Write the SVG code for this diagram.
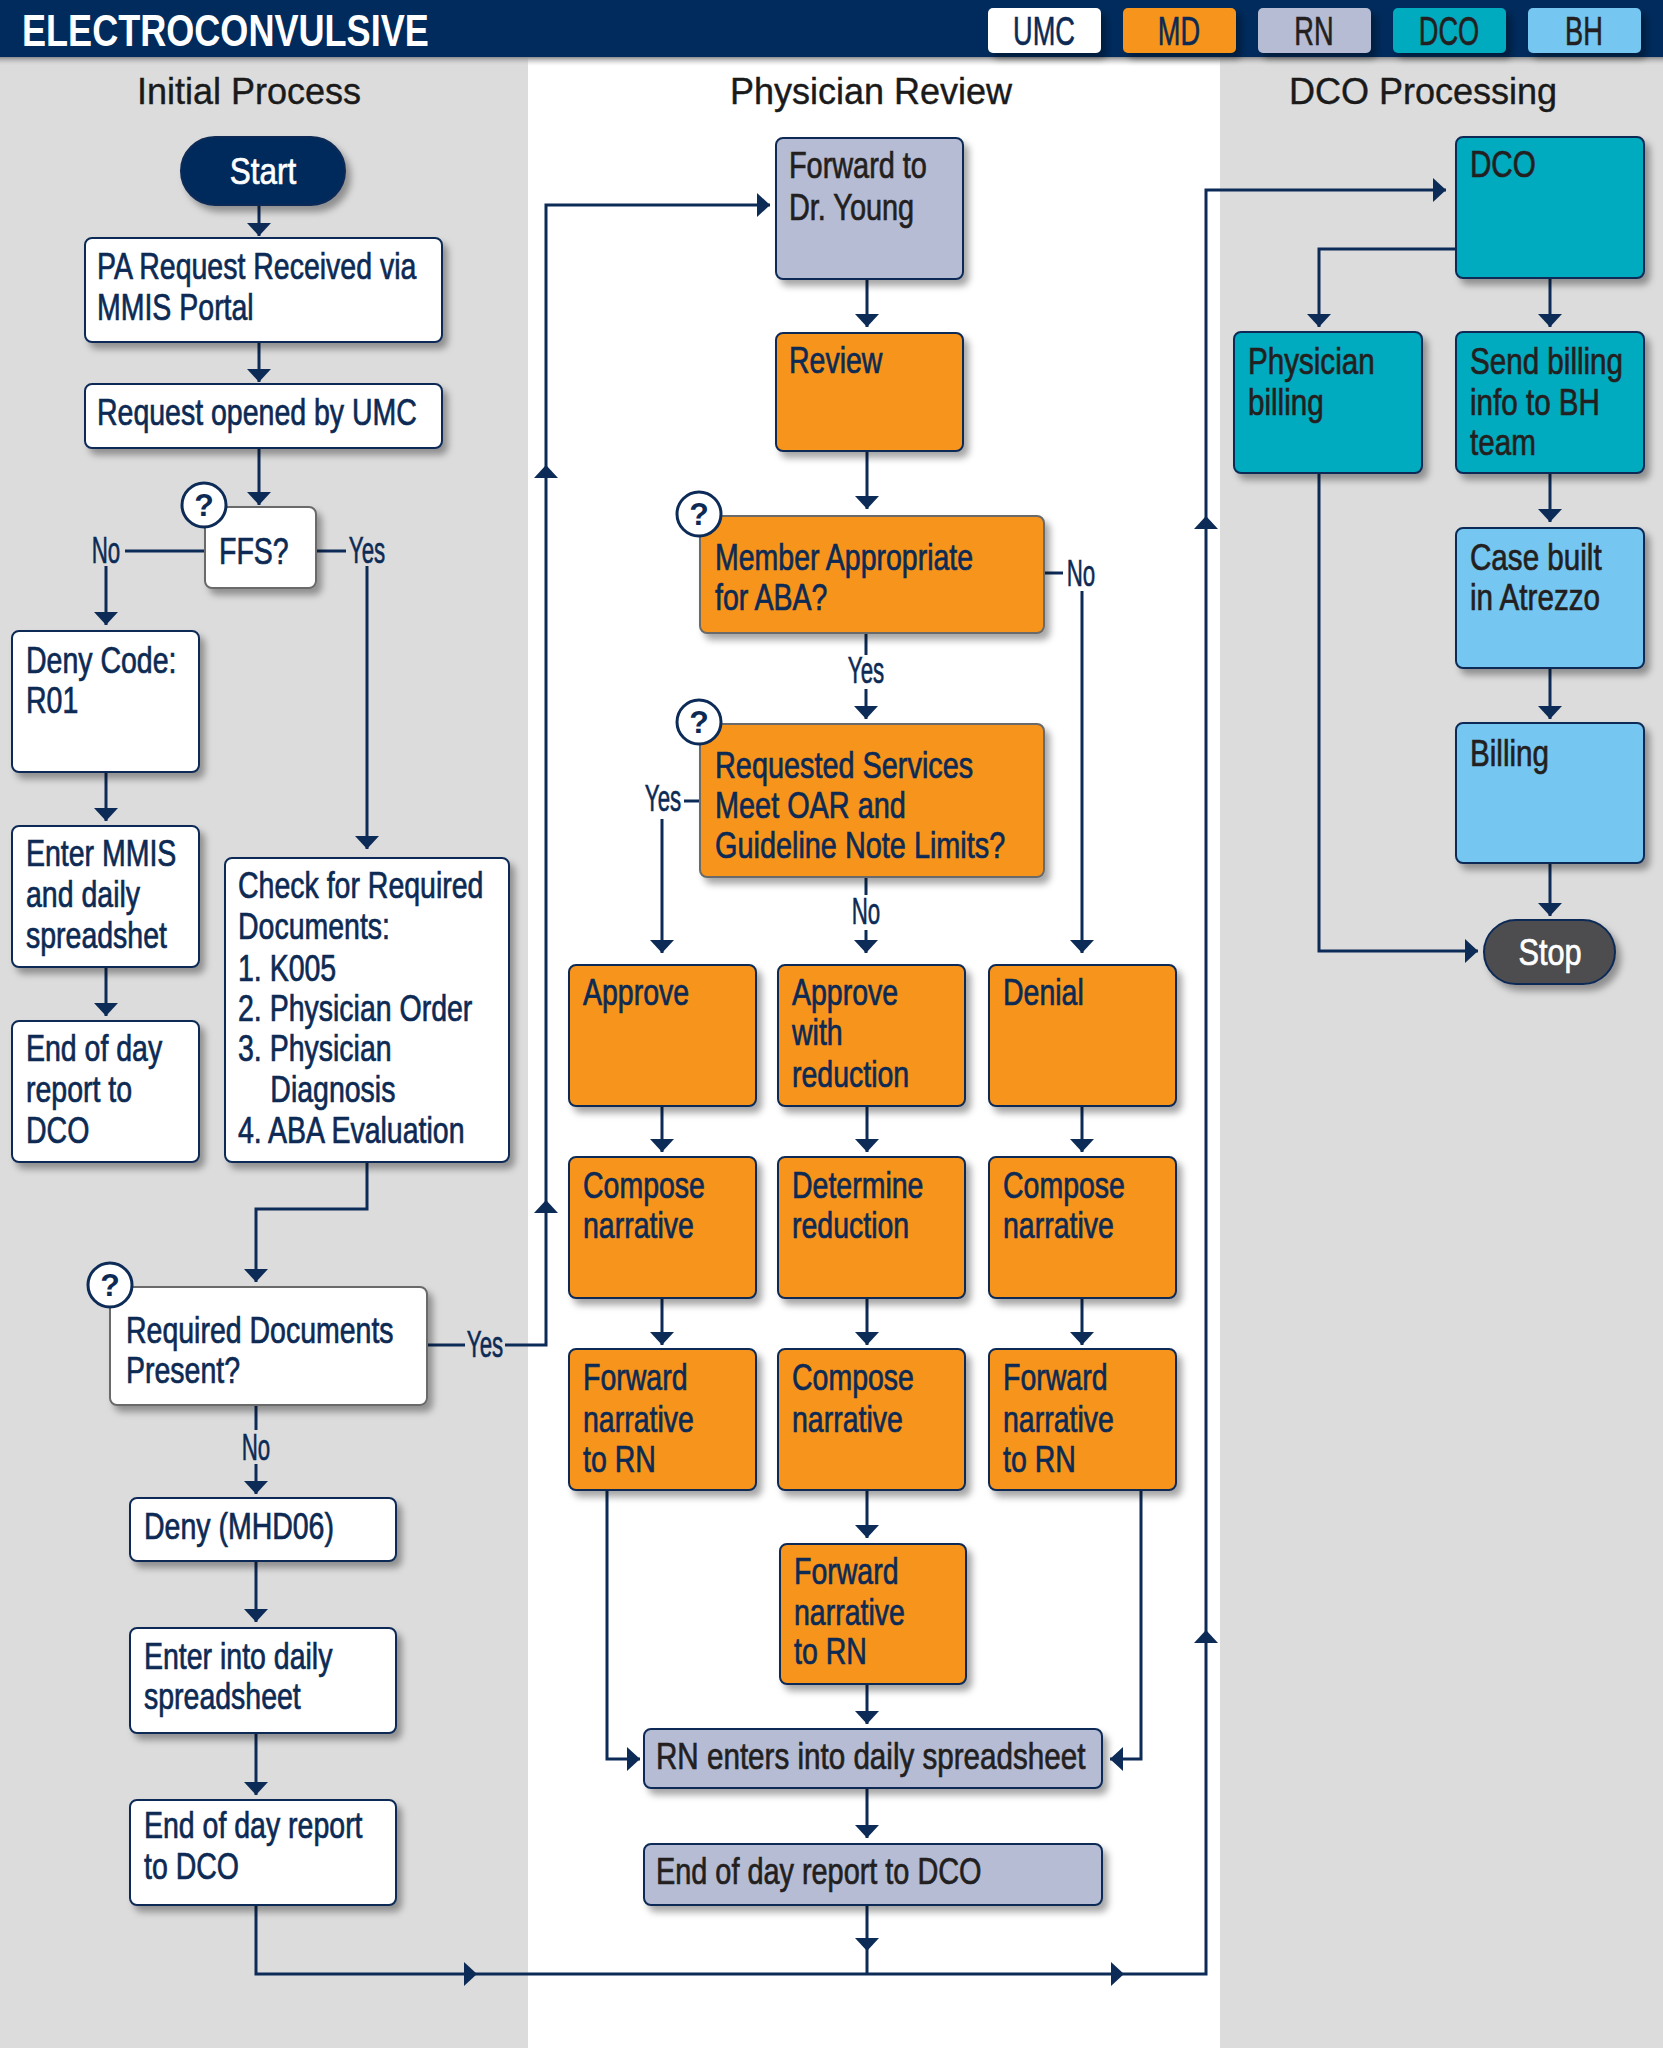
<svg xmlns="http://www.w3.org/2000/svg" width="1663" height="2048" viewBox="0 0 1663 2048">
<defs>
<filter id="sh" x="-10%" y="-10%" width="130%" height="140%">
<feDropShadow dx="5" dy="6" stdDeviation="3.5" flood-color="#000" flood-opacity="0.35"/>
</filter>
<linearGradient id="bandsh" x1="0" y1="0" x2="0" y2="1">
<stop offset="0" stop-color="#8a8a8a"/>
<stop offset="1" stop-color="#dcdcdc" stop-opacity="0"/>
</linearGradient>
<marker id="ah" viewBox="0 0 13 24" refX="13" refY="12" markerWidth="13" markerHeight="24" markerUnits="userSpaceOnUse" orient="auto">
<path d="M0,0 L13,12 L0,24 Z" fill="#0d2b57"/>
</marker>
<style>
.box{stroke:#0d2b57;stroke-width:2;filter:url(#sh)}
.dec{stroke:#6a6a6a}
.umc{fill:#ffffff}.md{fill:#F7941D}.rn{fill:#B5BCD4}.dco{fill:#00AABF}.bh{fill:#74C6F0}
.t{font-family:'Liberation Sans',Arial,sans-serif;font-size:37px;fill:#0c2a54;stroke:#0c2a54;stroke-width:0.7}
.k{fill:#231f20;stroke:#231f20}
.w{fill:#ffffff;stroke:#ffffff}
.lbl{font-family:'Liberation Sans',Arial,sans-serif;font-size:36px;fill:#0c2a54;stroke:#0c2a54;stroke-width:0.6;text-anchor:middle}
.hd{font-family:'Liberation Sans',Arial,sans-serif;font-size:36px;fill:#1a1a1a;stroke:#1a1a1a;stroke-width:0.4;text-anchor:middle}
.c{stroke:#0d2b57;stroke-width:3;fill:none}
.ca{stroke:#0d2b57;stroke-width:3;fill:none;marker-end:url(#ah)}
.tri{fill:#0d2b57}
.q{fill:#ffffff;stroke:#0d2b57;stroke-width:3}
.qt{font-family:'Liberation Sans',Arial,sans-serif;font-size:32px;font-weight:bold;fill:#0c2a54;text-anchor:middle}
.leg{font-family:'Liberation Sans',Arial,sans-serif;font-size:40px;text-anchor:middle;stroke-width:0.6}
</style>
</defs>

<!-- backgrounds -->
<rect x="0" y="0" width="1663" height="2048" fill="#ffffff"/>
<rect x="0" y="57" width="528" height="1991" fill="#DCDCDC"/>
<rect x="1220" y="57" width="443" height="1991" fill="#DCDCDC"/>
<rect x="0" y="57" width="1663" height="9" fill="url(#bandsh)"/>
<rect x="0" y="0" width="1663" height="57" fill="#002B5C"/>
<text transform="translate(22,46) scale(0.82,1)" font-family="'Liberation Sans',Arial,sans-serif" font-size="44" font-weight="bold" fill="#ffffff">ELECTROCONVULSIVE</text>

<!-- legend -->
<g id="legend">
<rect class="umc" x="988" y="8" width="113" height="45" rx="5" filter="url(#sh)"/>
<text class="leg" transform="translate(1044,45) scale(0.68,1)" fill="#0c2a54" stroke="#0c2a54">UMC</text>
<rect class="md" x="1123" y="8" width="113" height="45" rx="5" filter="url(#sh)"/>
<text class="leg" transform="translate(1179,45) scale(0.68,1)" fill="#0c2a54" stroke="#0c2a54">MD</text>
<rect class="rn" x="1258" y="8" width="113" height="45" rx="5" filter="url(#sh)"/>
<text class="leg" transform="translate(1314,45) scale(0.68,1)" fill="#231f20" stroke="#231f20">RN</text>
<rect class="dco" x="1393" y="8" width="113" height="45" rx="5" filter="url(#sh)"/>
<text class="leg" transform="translate(1449,45) scale(0.68,1)" fill="#231f20" stroke="#231f20">DCO</text>
<rect class="bh" x="1528" y="8" width="113" height="45" rx="5" filter="url(#sh)"/>
<text class="leg" transform="translate(1584,45) scale(0.68,1)" fill="#231f20" stroke="#231f20">BH</text>
</g>

<!-- column headers -->
<text class="hd" x="249" y="104">Initial Process</text>
<text class="hd" x="871" y="104">Physician Review</text>
<text class="hd" x="1423" y="104">DCO Processing</text>

<!-- connectors -->
<g id="connectors">
<path class="ca" d="M259,205 V236"/>
<path class="ca" d="M259,342 V382"/>
<path class="ca" d="M259,448 V505"/>
<path class="c" d="M205,551 H125"/>
<path class="ca" d="M106,566 V625"/>
<path class="c" d="M316,551 H346"/>
<path class="ca" d="M367,566 V849"/>
<path class="ca" d="M106,772 V821"/>
<path class="ca" d="M106,967 V1016"/>
<path class="ca" d="M367,1162 V1209 H256 V1282"/>
<path class="c" d="M427,1345 H465"/>
<path class="ca" d="M505,1345 H546 V205 H770"/>
<path class="tri" d="M534,1213 L546,1200 L558,1213 Z"/>
<path class="tri" d="M534,478 L546,465 L558,478 Z"/>
<path class="c" d="M256,1405 V1430"/>
<path class="ca" d="M256,1464 V1494"/>
<path class="ca" d="M256,1561 V1622"/>
<path class="ca" d="M256,1733 V1795"/>
<path class="ca" d="M256,1905 V1974 H1206 V190 H1446"/>
<path class="tri" d="M464,1962 L477,1974 L464,1986 Z"/>
<path class="tri" d="M1111,1962 L1124,1974 L1111,1986 Z"/>
<path class="tri" d="M1194,1643 L1206,1630 L1218,1643 Z"/>
<path class="tri" d="M1194,529 L1206,516 L1218,529 Z"/>
<path class="c" d="M867,1905 V1974"/>
<path class="tri" d="M855,1938 L867,1951 L879,1938 Z"/>
<path class="ca" d="M867,279 V327"/>
<path class="ca" d="M867,451 V509"/>
<path class="c" d="M1044,573 H1063"/>
<path class="ca" d="M1082,591 V953"/>
<path class="c" d="M866,633 V655"/>
<path class="ca" d="M866,689 V719"/>
<path class="c" d="M700,801 H684"/>
<path class="ca" d="M662,819 V953"/>
<path class="c" d="M866,877 V895"/>
<path class="ca" d="M866,930 V953"/>
<path class="ca" d="M662,1106 V1152"/>
<path class="ca" d="M867,1106 V1152"/>
<path class="ca" d="M1082,1106 V1152"/>
<path class="ca" d="M662,1298 V1345"/>
<path class="ca" d="M867,1298 V1345"/>
<path class="ca" d="M1082,1298 V1345"/>
<path class="ca" d="M867,1490 V1538"/>
<path class="ca" d="M607,1490 V1759 H640"/>
<path class="ca" d="M1141,1490 V1759 H1110"/>
<path class="ca" d="M867,1684 V1724"/>
<path class="ca" d="M867,1788 V1838"/>
<path class="ca" d="M1456,249 H1319 V327"/>
<path class="ca" d="M1550,278 V327"/>
<path class="ca" d="M1550,473 V522"/>
<path class="ca" d="M1550,668 V719"/>
<path class="ca" d="M1550,863 V916"/>
<path class="ca" d="M1319,473 V951 H1478"/>
<text class="lbl" transform="translate(106,563) scale(0.62,1)">No</text>
<text class="lbl" transform="translate(367,563) scale(0.62,1)">Yes</text>
<text class="lbl" transform="translate(485,1357) scale(0.62,1)">Yes</text>
<text class="lbl" transform="translate(256,1460) scale(0.62,1)">No</text>
<text class="lbl" transform="translate(1081,586) scale(0.62,1)">No</text>
<text class="lbl" transform="translate(866,683) scale(0.62,1)">Yes</text>
<text class="lbl" transform="translate(663,811) scale(0.62,1)">Yes</text>
<text class="lbl" transform="translate(866,924) scale(0.62,1)">No</text>
</g>

<!-- Initial Process nodes -->
<g id="start">
<rect x="181" y="137" width="164" height="68" rx="34" fill="#002B5C" stroke="#0d2b57" stroke-width="2" filter="url(#sh)"/>
<text class="t w" transform="translate(263,184) scale(0.85,1)" text-anchor="middle">Start</text>
</g>
<g id="pa-request">
<rect class="box umc" x="85" y="238" width="357" height="104" rx="7"/>
<text class="t" transform="translate(97,279) scale(0.77,1)"><tspan x="0" y="0">PA Request Received via</tspan><tspan x="0" y="41">MMIS Portal</tspan></text>
</g>
<g id="request-opened">
<rect class="box umc" x="85" y="384" width="357" height="64" rx="7"/>
<text class="t" transform="translate(97,425) scale(0.77,1)">Request opened by UMC</text>
</g>
<g id="ffs">
<rect class="box dec umc" x="205" y="507" width="111" height="81" rx="7"/>
<text class="t" transform="translate(219,564) scale(0.77,1)">FFS?</text>
<circle class="q" cx="204" cy="505" r="22"/>
<text class="qt" x="204" y="516">?</text>
</g>
<g id="deny-code">
<rect class="box umc" x="12" y="631" width="187" height="141" rx="7"/>
<text class="t" transform="translate(26,673) scale(0.77,1)"><tspan x="0" y="0">Deny Code:</tspan><tspan x="0" y="40">R01</tspan></text>
</g>
<g id="enter-mmis">
<rect class="box umc" x="12" y="826" width="187" height="141" rx="7"/>
<text class="t" transform="translate(26,866) scale(0.77,1)"><tspan x="0" y="0">Enter MMIS</tspan><tspan x="0" y="41">and daily</tspan><tspan x="0" y="82">spreadshet</tspan></text>
</g>
<g id="end-of-day-1">
<rect class="box umc" x="12" y="1021" width="187" height="141" rx="7"/>
<text class="t" transform="translate(26,1061) scale(0.77,1)"><tspan x="0" y="0">End of day</tspan><tspan x="0" y="41">report to</tspan><tspan x="0" y="82">DCO</tspan></text>
</g>
<g id="check-docs">
<rect class="box umc" x="225" y="858" width="284" height="304" rx="7"/>
<text class="t" transform="translate(238,898) scale(0.77,1)"><tspan x="0" y="0">Check for Required</tspan><tspan x="0" y="41">Documents:</tspan><tspan x="0" y="83">1. K005</tspan><tspan x="0" y="123">2. Physician Order</tspan><tspan x="0" y="163">3. Physician</tspan><tspan x="42" y="204">Diagnosis</tspan><tspan x="0" y="245">4. ABA Evaluation</tspan></text>
</g>
<g id="docs-present">
<rect class="box dec umc" x="110" y="1287" width="317" height="118" rx="7"/>
<text class="t" transform="translate(126,1343) scale(0.77,1)"><tspan x="0" y="0">Required Documents</tspan><tspan x="0" y="40">Present?</tspan></text>
<circle class="q" cx="110" cy="1285" r="22"/>
<text class="qt" x="110" y="1296">?</text>
</g>
<g id="deny-mhd06">
<rect class="box umc" x="130" y="1498" width="266" height="63" rx="7"/>
<text class="t" transform="translate(144,1539) scale(0.77,1)">Deny (MHD06)</text>
</g>
<g id="enter-daily">
<rect class="box umc" x="130" y="1628" width="266" height="105" rx="7"/>
<text class="t" transform="translate(144,1669) scale(0.77,1)"><tspan x="0" y="0">Enter into daily</tspan><tspan x="0" y="40">spreadsheet</tspan></text>
</g>
<g id="end-of-day-2">
<rect class="box umc" x="130" y="1800" width="266" height="105" rx="7"/>
<text class="t" transform="translate(144,1838) scale(0.77,1)"><tspan x="0" y="0">End of day report</tspan><tspan x="0" y="41">to DCO</tspan></text>
</g>

<!-- Physician Review nodes -->
<g id="forward-dr">
<rect class="box rn" x="776" y="138" width="187" height="141" rx="7"/>
<text class="t k" transform="translate(789,178) scale(0.78,1)"><tspan x="0" y="0">Forward to</tspan><tspan x="0" y="42">Dr. Young</tspan></text>
</g>
<g id="review">
<rect class="box md" x="776" y="333" width="187" height="118" rx="7"/>
<text class="t" transform="translate(789,373) scale(0.77,1)">Review</text>
</g>
<g id="member-appropriate">
<rect class="box dec md" x="700" y="516" width="344" height="117" rx="7"/>
<text class="t" transform="translate(715,570) scale(0.77,1)"><tspan x="0" y="0">Member Appropriate</tspan><tspan x="0" y="40">for ABA?</tspan></text>
<circle class="q" cx="699" cy="514" r="22"/>
<text class="qt" x="699" y="525">?</text>
</g>
<g id="requested-services">
<rect class="box dec md" x="700" y="724" width="344" height="153" rx="7"/>
<text class="t" transform="translate(715,778) scale(0.78,1)"><tspan x="0" y="0">Requested Services</tspan><tspan x="0" y="40">Meet OAR and</tspan><tspan x="0" y="80">Guideline Note Limits?</tspan></text>
<circle class="q" cx="699" cy="722" r="22"/>
<text class="qt" x="699" y="733">?</text>
</g>
<g id="approve">
<rect class="box md" x="569" y="965" width="187" height="141" rx="7"/>
<text class="t" transform="translate(583,1005) scale(0.77,1)">Approve</text>
</g>
<g id="approve-reduction">
<rect class="box md" x="778" y="965" width="187" height="141" rx="7"/>
<text class="t" transform="translate(792,1005) scale(0.77,1)"><tspan x="0" y="0">Approve</tspan><tspan x="0" y="40">with</tspan><tspan x="0" y="82">reduction</tspan></text>
</g>
<g id="denial">
<rect class="box md" x="989" y="965" width="187" height="141" rx="7"/>
<text class="t" transform="translate(1003,1005) scale(0.77,1)">Denial</text>
</g>
<g id="compose-1">
<rect class="box md" x="569" y="1157" width="187" height="141" rx="7"/>
<text class="t" transform="translate(583,1198) scale(0.77,1)"><tspan x="0" y="0">Compose</tspan><tspan x="0" y="40">narrative</tspan></text>
</g>
<g id="determine-reduction">
<rect class="box md" x="778" y="1157" width="187" height="141" rx="7"/>
<text class="t" transform="translate(792,1198) scale(0.77,1)"><tspan x="0" y="0">Determine</tspan><tspan x="0" y="40">reduction</tspan></text>
</g>
<g id="compose-3">
<rect class="box md" x="989" y="1157" width="187" height="141" rx="7"/>
<text class="t" transform="translate(1003,1198) scale(0.77,1)"><tspan x="0" y="0">Compose</tspan><tspan x="0" y="40">narrative</tspan></text>
</g>
<g id="forward-1">
<rect class="box md" x="569" y="1349" width="187" height="141" rx="7"/>
<text class="t" transform="translate(583,1390) scale(0.77,1)"><tspan x="0" y="0">Forward</tspan><tspan x="0" y="42">narrative</tspan><tspan x="0" y="82">to RN</tspan></text>
</g>
<g id="compose-2">
<rect class="box md" x="778" y="1349" width="187" height="141" rx="7"/>
<text class="t" transform="translate(792,1390) scale(0.77,1)"><tspan x="0" y="0">Compose</tspan><tspan x="0" y="42">narrative</tspan></text>
</g>
<g id="forward-3">
<rect class="box md" x="989" y="1349" width="187" height="141" rx="7"/>
<text class="t" transform="translate(1003,1390) scale(0.77,1)"><tspan x="0" y="0">Forward</tspan><tspan x="0" y="42">narrative</tspan><tspan x="0" y="82">to RN</tspan></text>
</g>
<g id="forward-2">
<rect class="box md" x="780" y="1544" width="186" height="140" rx="7"/>
<text class="t" transform="translate(794,1584) scale(0.77,1)"><tspan x="0" y="0">Forward</tspan><tspan x="0" y="41">narrative</tspan><tspan x="0" y="80">to RN</tspan></text>
</g>
<g id="rn-enters">
<rect class="box rn" x="644" y="1729" width="458" height="59" rx="7"/>
<text class="t k" transform="translate(656,1769) scale(0.80,1)">RN enters into daily spreadsheet</text>
</g>
<g id="rn-end-of-day">
<rect class="box rn" x="644" y="1844" width="458" height="61" rx="7"/>
<text class="t k" transform="translate(656,1884) scale(0.78,1)">End of day report to DCO</text>
</g>

<!-- DCO Processing nodes -->
<g id="dco">
<rect class="box dco" x="1456" y="137" width="188" height="141" rx="7"/>
<text class="t k" transform="translate(1470,177) scale(0.80,1)">DCO</text>
</g>
<g id="physician-billing">
<rect class="box dco" x="1234" y="332" width="188" height="141" rx="7"/>
<text class="t k" transform="translate(1248,374) scale(0.80,1)"><tspan x="0" y="0">Physician</tspan><tspan x="0" y="41">billing</tspan></text>
</g>
<g id="send-billing">
<rect class="box dco" x="1456" y="332" width="188" height="141" rx="7"/>
<text class="t k" transform="translate(1470,374) scale(0.80,1)"><tspan x="0" y="0">Send billing</tspan><tspan x="0" y="41">info to BH</tspan><tspan x="0" y="81">team</tspan></text>
</g>
<g id="case-built">
<rect class="box bh" x="1456" y="528" width="188" height="140" rx="7"/>
<text class="t k" transform="translate(1470,570) scale(0.80,1)"><tspan x="0" y="0">Case built</tspan><tspan x="0" y="40">in Atrezzo</tspan></text>
</g>
<g id="billing">
<rect class="box bh" x="1456" y="723" width="188" height="140" rx="7"/>
<text class="t k" transform="translate(1470,766) scale(0.80,1)">Billing</text>
</g>
<g id="stop">
<rect x="1484" y="920" width="131" height="64" rx="32" fill="#4D4D4F" stroke="#0d2b57" stroke-width="2" filter="url(#sh)"/>
<text class="t w" transform="translate(1550,965) scale(0.83,1)" text-anchor="middle">Stop</text>
</g>
</svg>
